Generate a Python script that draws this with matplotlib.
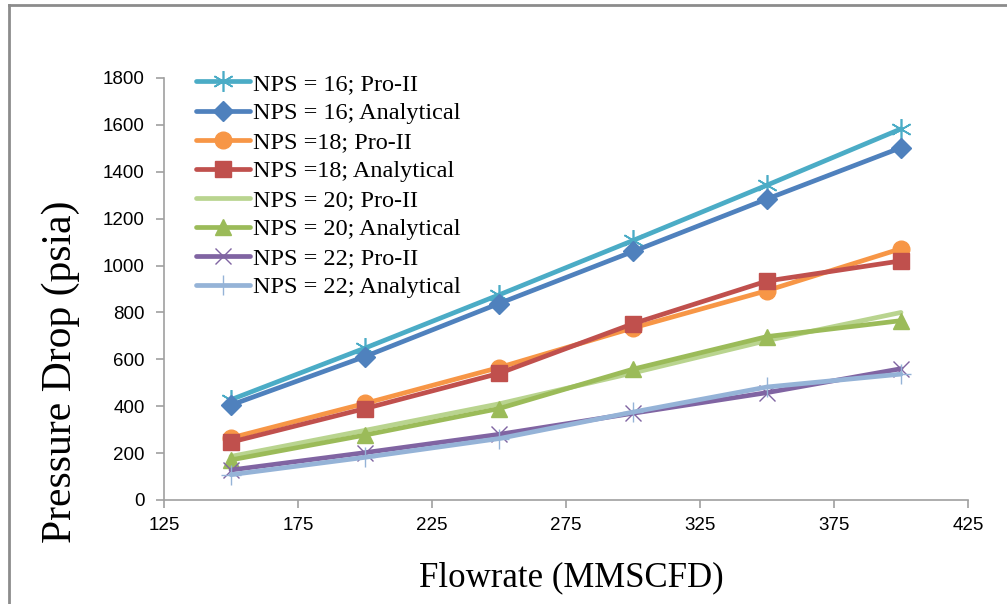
import matplotlib
matplotlib.use('Agg')
import matplotlib.pyplot as plt
from matplotlib.lines import Line2D

# Flowrate (MMSCFD)
flowrate = [150, 200, 250, 300, 350, 400]

# Pressure drop (psia)
nps16_proii = [428, 648, 875, 1107, 1343, 1583]
nps16_analytical = [405, 612, 838, 1060, 1284, 1503]
nps18_proii = [265, 412, 565, 734, 893, 1072]
nps18_analytical = [247, 390, 540, 752, 934, 1020]
nps20_proii = [186, 297, 410, 542, 680, 800]
nps20_analytical = [171, 277, 390, 558, 697, 765]
nps22_proii = [128, 202, 280, 370, 458, 560]
nps22_analytical = [108, 182, 262, 375, 482, 537]

labels = ['NPS = 16; Pro-II', 'NPS = 16; Analytical',
          'NPS =18; Pro-II', 'NPS =18; Analytical',
          'NPS = 20; Pro-II', 'NPS = 20; Analytical',
          'NPS = 22; Pro-II', 'NPS = 22; Analytical']

series = [nps16_proii, nps16_analytical, nps18_proii, nps18_analytical,
          nps20_proii, nps20_analytical, nps22_proii, nps22_analytical]

# colour, marker, marker size, marker edge width
styles = [
    ('#4BACC6', (6, 2, 0), 15, 1.2),
    ('#4F81BD', 'D', 10, 1.0),
    ('#F79646', 'o', 12, 1.0),
    ('#C0504D', 's', 12, 1.0),
    ('#B9D48F', None, 0, 1.0),
    ('#9BBB59', '^', 12, 1.0),
    ('#8064A2', 'x', 12, 1.0),
    ('#95B3D7', '+', 15, 1.0),
]

fig = plt.figure(figsize=(10.07, 6.04), dpi=100)
ax = fig.add_axes([164 / 1007, 1 - 500 / 604, (968 - 164) / 1007, (500 - 78) / 604])

for vals, lab, (col, mk, ms, mew) in zip(series, labels, styles):
    ax.plot(flowrate, vals, color=col, lw=3.4, marker=mk, markersize=ms,
            markeredgewidth=mew, markeredgecolor=col, markerfacecolor=col,
            label=lab, solid_capstyle='round')

ax.set_xlim(125, 425)
ax.set_ylim(0, 1800)
ax.set_xticks(range(125, 426, 50))
ax.set_yticks(range(0, 1801, 200))

for s in ['top', 'right']:
    ax.spines[s].set_visible(False)
for s in ['left', 'bottom']:
    ax.spines[s].set_color('#A0A0A0')
    ax.spines[s].set_linewidth(1.2)

ax.tick_params(axis='both', colors='#A0A0A0', length=6, width=1.2,
               labelcolor='black', labelsize=13.5)
ax.tick_params(axis='x', pad=6)
ax.tick_params(axis='y', pad=8)
for t in ax.get_xticklabels() + ax.get_yticklabels():
    t.set_fontfamily('Liberation Sans')

ax.set_xlabel('Flowrate (MMSCFD)', fontsize=25, family='Liberation Serif')
ax.set_ylabel('Pressure Drop (psia)', fontsize=30, family='Liberation Serif')
ax.xaxis.set_label_coords(0.507, -0.185)
ax.xaxis.label.set_va('center')
ax.yaxis.set_label_coords(-0.129, 0.305)
ax.yaxis.label.set_va('center')

leg = ax.legend(loc='upper left', bbox_to_anchor=(0.028, 1.035), frameon=False,
                prop={'family': 'Liberation Serif', 'size': 17.5},
                handlelength=2.2, handletextpad=0.15, labelspacing=0.29,
                borderaxespad=0.0)

# outer chart border (left and top visible)
fig.add_artist(Line2D([9 / 1007, 9 / 1007], [0, 1 - 5 / 604], color='#8C8C8C', lw=2.0))
fig.add_artist(Line2D([9 / 1007, 1], [1 - 5 / 604, 1 - 5 / 604], color='#8C8C8C', lw=2.0))

fig.savefig('out.png', dpi=100)
